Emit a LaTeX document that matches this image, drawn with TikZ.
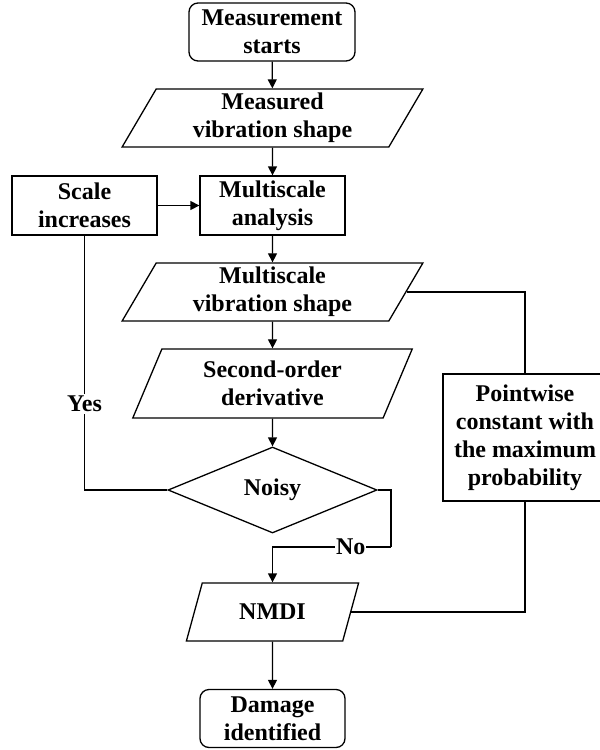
\documentclass[tikz,border=0pt]{standalone}
\usepackage{fontspec}
\setmainfont{Liberation Serif}
\usepackage{tikz}
\usetikzlibrary{shapes.geometric, arrows.meta, positioning}

\tikzset{
    base/.style={draw, line width=1.3pt, align=center, inner sep=2pt,
                 font=\bfseries\fontsize{24}{28}\selectfont},
    termbox/.style={base, rounded corners=9pt},
    procbox/.style={base, rectangle},
    databox/.style={base, trapezium, trapezium left angle=66,
                    trapezium right angle=114, trapezium stretches=true},
    decbox/.style={base, diamond, inner sep=0pt},
    flow/.style={line width=1.3pt, -{Triangle[length=9pt, width=9pt]}},
    link/.style={line width=1.3pt}
}

\begin{document}
\begin{tikzpicture}[x=1pt, y=-1pt]
        \useasboundingbox (0,0) rectangle (600,750);

        % main column
        \node[termbox, minimum width=166pt, minimum height=58pt] (start) at (272,32) {Measurement\\starts};
        \node[databox, minimum width=301pt, minimum height=58pt] (meas) at (272.5,118) {Measured\\vibration shape};
        \node[procbox, minimum width=145pt, minimum height=59pt] (anal) at (272.5,205.5) {Multiscale\\analysis};
        \node[procbox, minimum width=145pt, minimum height=59pt] (scale) at (84.5,205.5) {Scale\\increases};
        \node[databox, minimum width=301pt, minimum height=58pt] (msvs) at (272.5,292) {Multiscale\\vibration shape};
        \node[databox, trapezium left angle=69, trapezium right angle=111,
              minimum width=280pt, minimum height=69pt] (deriv) at (272.5,383.5) {Second-order\\derivative};
        \node[decbox, minimum width=209pt, minimum height=86pt] (noisy) at (272.5,490) {Noisy};
        \node[databox, trapezium left angle=68, trapezium right angle=112,
              minimum width=173pt, minimum height=58pt] (nmdi) at (272.5,612) {NMDI};
        \node[termbox, minimum width=145pt, minimum height=58pt] (damage) at (272.5,718.5) {Damage\\identified};

        % side branch
        \node[procbox, minimum width=164pt, minimum height=127pt] (point) at (525,437.5) {Pointwise\\constant with\\the maximum\\probability};

        \coordinate (nobend) at (391,547);

        \draw[flow] (start) -- (meas);
        \draw[flow] (meas) -- (anal);
        \draw[flow] (scale) -- (anal);
        \draw[flow] (anal) -- (msvs);
        \draw[flow] (msvs) -- (deriv);
        \draw[flow] (deriv) -- (noisy);
        \draw[link] (scale.south) |- node[pos=0.33, fill=white, base, draw=none] {Yes} (noisy.west);
        \draw[link] (noisy.east) -| (nobend);
        \draw[flow] (nobend) -| node[pos=0.17, fill=white, base, draw=none, inner sep=1pt] {No} (nmdi.north);
        \draw[flow] (nmdi) -- (damage);
        \draw[link] (msvs.east) -| (point.north);
        \draw[link] (point.south) |- (nmdi.east);
    \end{tikzpicture}
\end{document}
